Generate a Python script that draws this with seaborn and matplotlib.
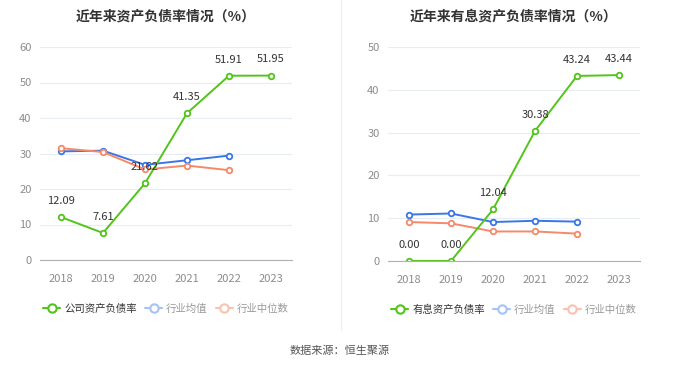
import pandas as pd
import seaborn as sns
import matplotlib.pyplot as plt
from matplotlib.lines import Line2D

years = ['2018', '2019', '2020', '2021', '2022', '2023']

# left chart
company_ratio = [12.09, 7.61, 21.62, 41.35, 51.91, 51.95]
industry_avg_left = [30.6, 30.8, 26.8, 28.1, 29.4, None]
industry_med_left = [31.5, 30.4, 25.5, 26.6, 25.3, None]

# right chart
interest_ratio = [0.00, 0.00, 12.04, 30.38, 43.24, 43.44]
industry_avg_right = [10.85, 11.1, 9.1, 9.4, 9.2, None]
industry_med_right = [9.1, 8.8, 6.9, 6.9, 6.4, None]

GREEN = '#52c41a'
BLUE = '#3a76e8'
ORANGE = '#f5896a'

sns.set_style('white')
plt.rcParams['font.family'] = ['Noto Sans CJK SC', 'DejaVu Sans']

fig = plt.figure(figsize=(6.8, 3.67), dpi=100)
ax1 = fig.add_axes([40 / 680, 1 - 260 / 367, 252 / 680, 213 / 367])
ax2 = fig.add_axes([388 / 680, 1 - 261 / 367, 252 / 680, 214 / 367])


def draw(ax, main, avg, med, ymax, title, main_label):
    df = pd.DataFrame({'x': range(len(years)), 'main': main, 'avg': avg, 'med': med})
    for col, color in [('avg', BLUE), ('med', ORANGE), ('main', GREEN)]:
        sns.lineplot(data=df, x='x', y=col, ax=ax, color=color, linewidth=1.4,
                     marker='o', markersize=4, markerfacecolor='white',
                     markeredgecolor=color, markeredgewidth=1.3)
    for i, v in enumerate(main):
        ax.annotate(f'{v:.2f}', (i, v), xytext=(0, 8), textcoords='offset points',
                    ha='center', va='bottom', fontsize=8, color='#333333')
    ax.set_xlim(-0.5, 5.5)
    ax.set_ylim(0, ymax)
    ax.set_yticks(range(0, ymax + 1, 10))
    ax.set_xticks(range(len(years)))
    ax.set_xticklabels(years)
    ax.set_xlabel('')
    ax.set_ylabel('')
    ax.grid(axis='y', color='#e8ecf4', linewidth=0.8)
    ax.set_axisbelow(True)
    for s in ['top', 'right', 'left']:
        ax.spines[s].set_visible(False)
    ax.spines['bottom'].set_color('#b0b0b0')
    ax.tick_params(axis='both', colors='#8c8c8c', labelsize=8, length=0, pad=6)
    ax.tick_params(axis='x', length=4, color='#b0b0b0')
    ax.set_title(title, fontsize=10, fontweight='bold', color='#333333', pad=19)

    handles = [
        Line2D([0], [0], color=GREEN, lw=1.5, marker='o', markersize=6,
               markerfacecolor='white', markeredgecolor=GREEN, markeredgewidth=1.5,
               label=main_label),
        Line2D([0], [0], color='#a5c3f5', lw=1.5, marker='o', markersize=6,
               markerfacecolor='white', markeredgecolor='#a5c3f5', markeredgewidth=1.5,
               label='行业均值'),
        Line2D([0], [0], color='#f9c2b0', lw=1.5, marker='o', markersize=6,
               markerfacecolor='white', markeredgecolor='#f9c2b0', markeredgewidth=1.5,
               label='行业中位数'),
    ]
    leg = ax.legend(handles=handles, loc='upper center', bbox_to_anchor=(0.5, -0.16),
                    ncol=3, frameon=False, fontsize=7.5, handlelength=1.6,
                    handletextpad=0.4, columnspacing=0.8)
    for t, c in zip(leg.get_texts(), ['#333333', '#999999', '#999999']):
        t.set_color(c)


draw(ax1, company_ratio, industry_avg_left, industry_med_left, 60,
     '近年来资产负债率情况（%）', '公司资产负债率')
draw(ax2, interest_ratio, industry_avg_right, industry_med_right, 50,
     '近年来有息资产负债率情况（%）', '有息资产负债率')

fig.add_artist(Line2D([341 / 680, 341 / 680], [1 - 330 / 367, 1.0],
                      color='#eeeeee', linewidth=0.8))
fig.text(0.5, 1 - 351 / 367, '数据来源：恒生聚源', ha='center', va='center',
         fontsize=8, color='#555555')

fig.savefig('out.png', dpi=100)
